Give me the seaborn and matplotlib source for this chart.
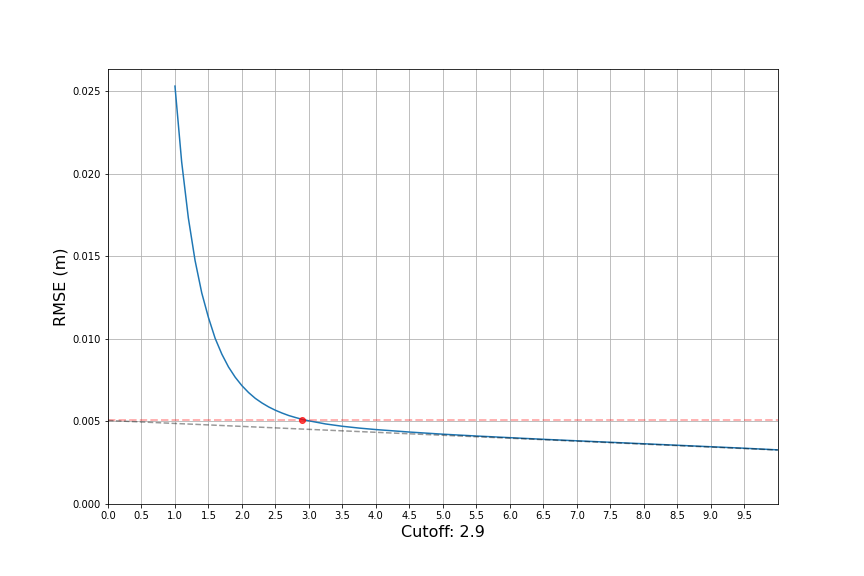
import numpy as np
import pandas as pd
import matplotlib
matplotlib.use("Agg")
import matplotlib.pyplot as plt
import seaborn as sns

# RMSE against cutoff
cutoff = [1.0, 1.1, 1.2, 1.3, 1.4, 1.5, 1.6, 1.7, 1.8, 1.9,
          2.0, 2.1, 2.2, 2.3, 2.4, 2.5, 2.6, 2.7, 2.8, 2.9,
          3.0, 3.25, 3.5, 3.75, 4.0, 4.5, 5.0, 5.5, 6.0, 6.5,
          7.0, 7.5, 8.0, 8.5, 9.0, 9.5, 10.0]
rmse = [0.02532, 0.02073, 0.01733, 0.01476, 0.01279, 0.01130, 0.01004, 0.00908, 0.00830, 0.00768,
        0.00717, 0.00675, 0.00640, 0.00612, 0.00588, 0.00568, 0.00551, 0.00536, 0.00524, 0.00513,
        0.00504, 0.00485, 0.00471, 0.00460, 0.00451, 0.00436, 0.00423, 0.00412, 0.00402, 0.00392,
        0.00383, 0.00374, 0.00365, 0.00356, 0.00347, 0.00338, 0.00328]

# linear trend line and threshold
trend_x = [0.0, 10.0]
trend_y = [0.00506, 0.00327]
threshold = 0.00506
best_cutoff = 2.9

df = pd.DataFrame({'cutoff': cutoff, 'rmse': rmse})

fig, ax = plt.subplots(figsize=(12, 8), dpi=72)
plt.subplots_adjust(left=0.125, right=0.9, bottom=0.125, top=0.88)

sns.lineplot(data=df, x='cutoff', y='rmse', ax=ax, color='tab:blue', linewidth=1.5)
ax.axhline(threshold, color='red', alpha=0.3, linestyle='--', linewidth=2)
ax.plot(trend_x, trend_y, color='k', alpha=0.4, linestyle='--', linewidth=1.5)
ax.plot([best_cutoff], [threshold], 'o', color='red', alpha=0.7, markersize=6)

ax.set_xlim(0, 10)
ax.set_ylim(0, 0.02635)
ax.set_xticks(np.arange(0, 10, 0.5))
ax.grid(True, color='#b0b0b0', linewidth=0.8)
ax.set_axisbelow(True)
ax.set_xlabel('Cutoff: %.1f' % best_cutoff, fontsize=16)
ax.set_ylabel('RMSE (m)', fontsize=16)

plt.savefig('out.png')
